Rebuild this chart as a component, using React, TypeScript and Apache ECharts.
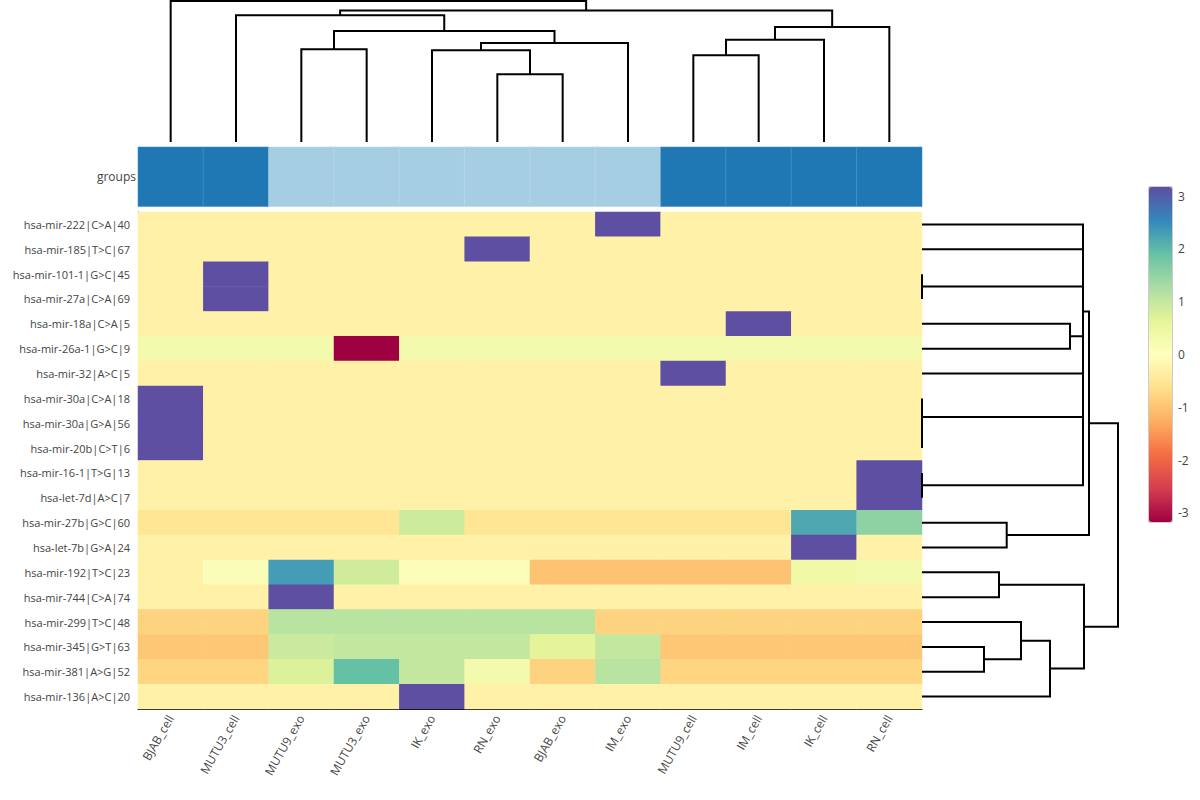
import React, { useEffect, useRef } from "react";
import * as echarts from "echarts";

const columns = ["BJAB_cell", "MUTU3_cell", "MUTU9_exo", "MUTU3_exo", "IK_exo", "RN_exo", "BJAB_exo", "IM_exo", "MUTU9_cell", "IM_cell", "IK_cell", "RN_cell"];

const rowLabels = [
  "hsa-mir-222|C>A|40", "hsa-mir-185|T>C|67", "hsa-mir-101-1|G>C|45", "hsa-mir-27a|C>A|69",
  "hsa-mir-18a|C>A|5", "hsa-mir-26a-1|G>C|9", "hsa-mir-32|A>C|5", "hsa-mir-30a|C>A|18",
  "hsa-mir-30a|G>A|56", "hsa-mir-20b|C>T|6", "hsa-mir-16-1|T>G|13", "hsa-let-7d|A>C|7",
  "hsa-mir-27b|G>C|60", "hsa-let-7b|G>A|24", "hsa-mir-192|T>C|23", "hsa-mir-744|C>A|74",
  "hsa-mir-299|T>C|48", "hsa-mir-345|G>T|63", "hsa-mir-381|A>G|52", "hsa-mir-136|A>C|20",
];

// group of each column: 1 = cell, 0 = exo
const groupValues = [1, 1, 0, 0, 0, 0, 0, 0, 1, 1, 1, 1];

// z-scored values, one row per miRNA, in column order
const zRows: number[][] = [
  [-0.29, -0.29, -0.29, -0.29, -0.29, -0.29, -0.29, 3.17, -0.29, -0.29, -0.29, -0.29],
  [-0.29, -0.29, -0.29, -0.29, -0.29, 3.17, -0.29, -0.29, -0.29, -0.29, -0.29, -0.29],
  [-0.29, 3.17, -0.29, -0.29, -0.29, -0.29, -0.29, -0.29, -0.29, -0.29, -0.29, -0.29],
  [-0.29, 3.17, -0.29, -0.29, -0.29, -0.29, -0.29, -0.29, -0.29, -0.29, -0.29, -0.29],
  [-0.29, -0.29, -0.29, -0.29, -0.29, -0.29, -0.29, -0.29, -0.29, 3.17, -0.29, -0.29],
  [0.29, 0.29, 0.29, -3.17, 0.29, 0.29, 0.29, 0.29, 0.29, 0.29, 0.29, 0.29],
  [-0.29, -0.29, -0.29, -0.29, -0.29, -0.29, -0.29, -0.29, 3.17, -0.29, -0.29, -0.29],
  [3.17, -0.29, -0.29, -0.29, -0.29, -0.29, -0.29, -0.29, -0.29, -0.29, -0.29, -0.29],
  [3.17, -0.29, -0.29, -0.29, -0.29, -0.29, -0.29, -0.29, -0.29, -0.29, -0.29, -0.29],
  [3.17, -0.29, -0.29, -0.29, -0.29, -0.29, -0.29, -0.29, -0.29, -0.29, -0.29, -0.29],
  [-0.29, -0.29, -0.29, -0.29, -0.29, -0.29, -0.29, -0.29, -0.29, -0.29, -0.29, 3.17],
  [-0.29, -0.29, -0.29, -0.29, -0.29, -0.29, -0.29, -0.29, -0.29, -0.29, -0.29, 3.17],
  [-0.52, -0.52, -0.52, -0.52, 0.9, -0.52, -0.52, -0.52, -0.52, -0.52, 2.2, 1.54],
  [-0.29, -0.29, -0.29, -0.29, -0.29, -0.29, -0.29, -0.29, -0.29, -0.29, 3.17, -0.29],
  [-0.29, 0.13, 2.32, 0.88, 0.1, 0.1, -1.0, -1.0, -1.0, -1.0, 0.4, 0.3],
  [-0.29, -0.29, 3.17, -0.29, -0.29, -0.29, -0.29, -0.29, -0.29, -0.29, -0.29, -0.29],
  [-0.8, -0.8, 1.12, 1.12, 1.12, 1.12, 1.12, -0.8, -0.8, -0.8, -0.8, -0.8],
  [-0.95, -0.95, 0.93, 1.0, 1.0, 1.0, 0.65, 1.0, -0.95, -0.95, -0.95, -0.95],
  [-0.78, -0.78, 0.75, 1.92, 1.0, 0.3, -0.8, 1.12, -0.78, -0.78, -0.78, -0.78],
  [-0.29, -0.29, -0.29, -0.29, 3.17, -0.29, -0.29, -0.29, -0.29, -0.29, -0.29, -0.29],
];

// column dendrogram linkage: [childA, childB, height]; leaves 0..11, merges 12..
const colMerges: number[][] = [
  [5, 6, 68], [4, 12, 92], [13, 7, 99.3], [2, 3, 93], [15, 14, 111.3], [1, 16, 127.3],
  [8, 9, 87], [18, 10, 102.7], [19, 11, 115.3], [17, 20, 132], [0, 21, 141.5],
];

// row dendrogram linkage: leaves 0..19, merges 20..
const rowMerges: number[][] = [
  [8, 9, 0], [7, 20, 0], [2, 3, 0], [10, 11, 0], [4, 5, 148], [0, 1, 161], [24, 6, 161],
  [22, 26, 161], [21, 23, 161], [27, 28, 161], [25, 29, 161], [12, 13, 84.7], [30, 31, 167],
  [14, 15, 77], [17, 18, 62], [16, 34, 99], [35, 19, 128], [33, 36, 162], [32, 37, 196],
];

const colorbarTicks = [-3, -2, -1, 0, 1, 2, 3];
const spectral = ["#9e0142", "#d53e4f", "#f46d43", "#fdae61", "#fee08b", "#ffffbf", "#e6f598", "#abdda4", "#66c2a5", "#3288bd", "#5e4fa2"];
const ZMAX = 3.175;

function dendroLinks(n: number, merges: number[][]): number[][][] {
  const pos: number[] = [];
  const h: number[] = [];
  for (let i = 0; i < n; i++) { pos[i] = i; h[i] = 0; }
  return merges.map(([a, b, H], k) => {
    const id = n + k;
    pos[id] = (pos[a] + pos[b]) / 2;
    h[id] = H;
    return [[pos[a], h[a]], [pos[a], H], [pos[b], H], [pos[b], h[b]]];
  });
}

const FONT = "Open Sans";
const TXT = "#444";

export default function App() {
  const ref = useRef<HTMLDivElement>(null);
  useEffect(() => {
    if (!ref.current) return;
    const chart = echarts.init(ref.current, null, { renderer: "svg" });

    const heatData: number[][] = [];
    zRows.forEach((row, r) => row.forEach((v, c) => heatData.push([c, r, v])));
    const groupData = groupValues.map((g, c) => [c, 0, g]);

    const topLinks = dendroLinks(columns.length, colMerges).map((pts) => ({ coords: pts }));
    const rightLinks = dendroLinks(rowLabels.length, rowMerges).map((pts) => ({
      coords: pts.map(([p, hh]) => [hh, p]),
    }));
    const topMax = colMerges[colMerges.length - 1][2];
    const rightMax = rowMerges[rowMerges.length - 1][2];

    const option: any = {
      animation: false,
      textStyle: { fontFamily: FONT },
      grid: [
        { left: 138, top: 212, width: 784, height: 497 },
        { left: 138, top: 147, width: 784, height: 59.5 },
        { left: 138, top: 1, width: 784, height: 141 },
        { left: 922, top: 212, width: 196, height: 497 },
        { left: 1149, top: 187, width: 23, height: 335, show: true, borderColor: "#999", borderWidth: 1, backgroundColor: "transparent" },
      ],
      xAxis: [
        {
          type: "category", gridIndex: 0, data: columns,
          axisLine: { lineStyle: { color: "#000", width: 1 } },
          axisTick: { alignWithLabel: true, length: 5, lineStyle: { color: "#444" } },
          axisLabel: { rotate: 60, fontSize: 12, color: TXT, margin: 7, fontFamily: FONT },
          splitLine: { show: false },
        },
        { type: "category", gridIndex: 1, data: columns, show: false },
        { type: "value", gridIndex: 2, min: -0.5, max: columns.length - 0.5, show: false },
        { type: "value", gridIndex: 3, min: 0, max: rightMax, show: false },
        { type: "value", gridIndex: 4, min: 0, max: 1, show: false },
      ],
      yAxis: [
        {
          type: "category", gridIndex: 0, data: rowLabels, inverse: true,
          axisLine: { lineStyle: { color: "#000", width: 1 } },
          axisTick: { alignWithLabel: true, length: 5, lineStyle: { color: "#444" } },
          axisLabel: { fontSize: 11, color: TXT, margin: 8, fontFamily: FONT },
          splitLine: { show: false },
        },
        {
          type: "category", gridIndex: 1, data: ["groups"],
          axisLine: { show: false }, axisTick: { show: false },
          axisLabel: { fontSize: 12, color: TXT, margin: 2, fontFamily: FONT },
        },
        { type: "value", gridIndex: 2, min: 0, max: topMax, show: false },
        { type: "value", gridIndex: 3, min: -0.5, max: rowLabels.length - 0.5, inverse: true, show: false },
        {
          type: "value", gridIndex: 4, min: -ZMAX, max: ZMAX, position: "right",
          axisLine: { show: false }, splitLine: { show: false },
          axisTick: { show: true, length: 4, customValues: colorbarTicks, lineStyle: { color: "#444" } },
          axisLabel: { customValues: colorbarTicks, color: TXT, fontSize: 12, margin: 6, fontFamily: FONT },
        },
      ],
      visualMap: [
        {
          type: "continuous", seriesIndex: 0, min: -ZMAX, max: ZMAX, orient: "vertical",
          left: 1149, top: 187, itemWidth: 23, itemHeight: 335, padding: 0,
          calculable: false, inRange: { color: spectral }, text: null, hoverLink: false,
        },
        {
          type: "piecewise", seriesIndex: 1, show: false,
          pieces: [{ value: 0, color: "#a6cee3" }, { value: 1, color: "#1f78b4" }],
        },
      ],
      series: [
        { type: "heatmap", xAxisIndex: 0, yAxisIndex: 0, data: heatData, emphasis: { disabled: true } },
        {
          type: "heatmap", xAxisIndex: 1, yAxisIndex: 1, data: groupData, emphasis: { disabled: true },
          itemStyle: { borderColor: "rgba(255,255,255,0.25)", borderWidth: 0.5 },
        },
        {
          type: "lines", coordinateSystem: "cartesian2d", xAxisIndex: 2, yAxisIndex: 2, polyline: true,
          data: topLinks, lineStyle: { color: "#000", width: 2, opacity: 1 }, silent: true,
        },
        {
          type: "lines", coordinateSystem: "cartesian2d", xAxisIndex: 3, yAxisIndex: 3, polyline: true,
          data: rightLinks, lineStyle: { color: "#000", width: 2, opacity: 1 }, silent: true,
        },
      ],
    };
    chart.setOption(option);
    return () => chart.dispose();
  }, []);
  return <div ref={ref} style={{ position: "absolute", left: 0, top: 0, width: 1200, height: 800 }} />;
}
